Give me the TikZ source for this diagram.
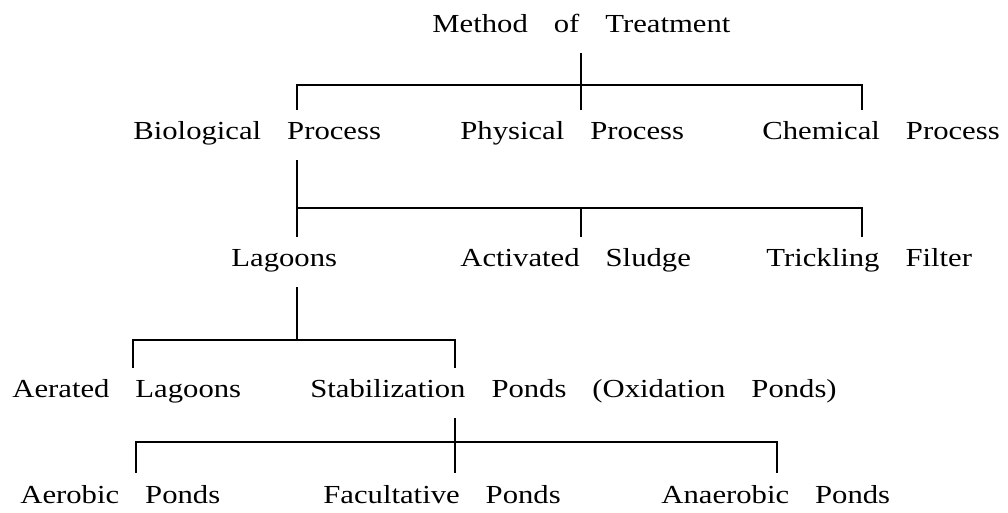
\documentclass[tikz,border=0pt]{standalone}
\usepackage{fontspec}
\setmainfont[FakeStretch=1.18]{Liberation Serif}
\usepackage{tikz}
\usetikzlibrary{positioning}

\newcommand\widewords{\spaceskip=13pt\relax}

\tikzset{
  lbl/.style={anchor=base west, inner xsep=0pt, inner ysep=6pt, text height=9pt, text depth=4pt,
    font=\fontsize{13}{15}\selectfont, execute at begin node=\widewords},
  branch/.style={draw, line width=1pt}
}

\begin{document}
\begin{tikzpicture}[x=0.5pt, y=-0.5pt]
\useasboundingbox (0,0) rectangle (1008,513);

\node[lbl] (treat) at (432,33) {Method of Treatment};

\node[lbl] (bio) at (133,140) {Biological Process};
\node[lbl] (phys) at (460,140) {Physical Process};
\node[lbl] (chem) at (762,140) {Chemical Process};

\node[lbl] (lag) at (231,267) {Lagoons};
\node[lbl] (act) at (460,267) {Activated Sludge};
\node[lbl] (trick) at (766,267) {Trickling Filter};

\node[lbl] (aer) at (12,398) {Aerated Lagoons};
\node[lbl] (stab) at (310,398) {Stabilization Ponds (Oxidation Ponds)};

\node[lbl] (aerob) at (20,503) {Aerobic Ponds};
\node[lbl] (facul) at (323,503) {Facultative Ponds};
\node[lbl] (anaer) at (661,503) {Anaerobic Ponds};

\coordinate (l1) at (297,85);
\coordinate (m1) at (581,85);
\coordinate (r1) at (862,85);
\coordinate (l2) at (297,208);
\coordinate (m2) at (581,208);
\coordinate (r2) at (862,208);
\coordinate (l3) at (133,340);
\coordinate (m3) at (297,340);
\coordinate (r3) at (455,340);
\coordinate (l4) at (136,442);
\coordinate (m4) at (455,442);
\coordinate (r4) at (777,442);

\path[branch] (treat.south -| m1) -- (phys.north -| m1);
\path[branch] (bio.north -| l1) |- (r1) -- (chem.north -| r1);

\path[branch] (bio.south -| l2) -- (lag.north -| l2);
\path[branch] (l2) -| (trick.north -| r2);
\path[branch] (m2) -- (act.north -| m2);

\path[branch] (lag.south -| m3) -- (m3);
\path[branch] (aer.north -| l3) |- (r3) -- (stab.north -| r3);

\path[branch] (stab.south -| m4) -- (facul.north -| m4);
\path[branch] (aerob.north -| l4) |- (r4) -- (anaer.north -| r4);
\end{tikzpicture}
\end{document}
